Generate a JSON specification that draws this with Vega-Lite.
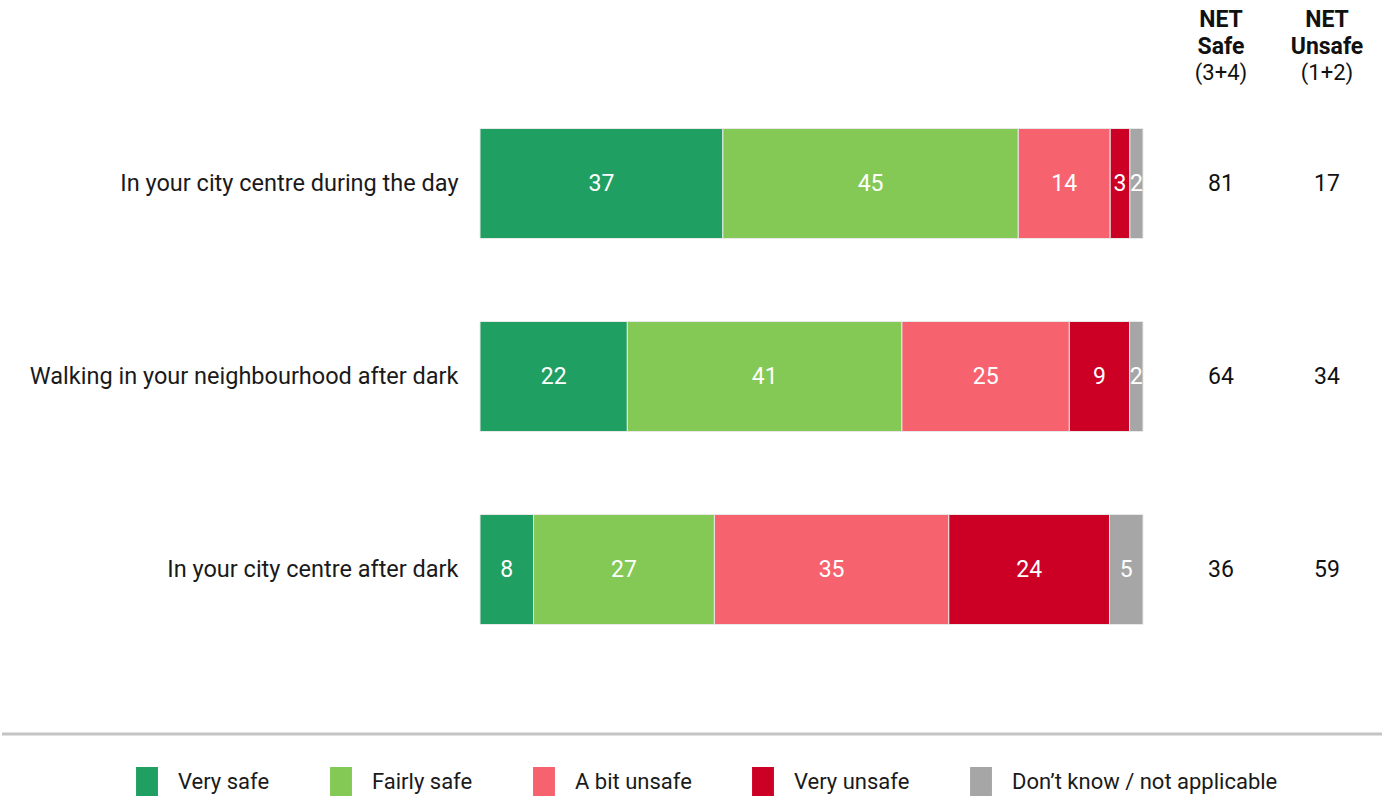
{
  "$schema": "https://vega.github.io/schema/vega-lite/v6.json",
  "padding": {"top": 9, "left": 0, "right": 0, "bottom": 0},
  "background": "white",
  "config": {
    "font": "Roboto",
    "view": {"stroke": null},
    "title": {"fontSize": 23, "fontWeight": "bold", "subtitleFontSize": 22, "subtitleFontWeight": "normal", "anchor": "middle", "lineHeight": 27, "subtitleLineHeight": 27, "subtitlePadding": 4, "color": "#111111", "subtitleColor": "#111111", "offset": 3}
  },
  "datasets": {
    "responses": [
      {"statement": "In your city centre during the day", "category": "Very safe", "value": 37},
      {"statement": "In your city centre during the day", "category": "Fairly safe", "value": 45},
      {"statement": "In your city centre during the day", "category": "A bit unsafe", "value": 14},
      {"statement": "In your city centre during the day", "category": "Very unsafe", "value": 3},
      {"statement": "In your city centre during the day", "category": "Don’t know / not applicable", "value": 2},
      {"statement": "Walking in your neighbourhood after dark", "category": "Very safe", "value": 22},
      {"statement": "Walking in your neighbourhood after dark", "category": "Fairly safe", "value": 41},
      {"statement": "Walking in your neighbourhood after dark", "category": "A bit unsafe", "value": 25},
      {"statement": "Walking in your neighbourhood after dark", "category": "Very unsafe", "value": 9},
      {"statement": "Walking in your neighbourhood after dark", "category": "Don’t know / not applicable", "value": 2},
      {"statement": "In your city centre after dark", "category": "Very safe", "value": 8},
      {"statement": "In your city centre after dark", "category": "Fairly safe", "value": 27},
      {"statement": "In your city centre after dark", "category": "A bit unsafe", "value": 35},
      {"statement": "In your city centre after dark", "category": "Very unsafe", "value": 24},
      {"statement": "In your city centre after dark", "category": "Don’t know / not applicable", "value": 5}
    ],
    "net": [
      {"statement": "In your city centre during the day", "measure": "NET Safe", "value": 81},
      {"statement": "In your city centre during the day", "measure": "NET Unsafe", "value": 17},
      {"statement": "Walking in your neighbourhood after dark", "measure": "NET Safe", "value": 64},
      {"statement": "Walking in your neighbourhood after dark", "measure": "NET Unsafe", "value": 34},
      {"statement": "In your city centre after dark", "measure": "NET Safe", "value": 36},
      {"statement": "In your city centre after dark", "measure": "NET Unsafe", "value": 59}
    ]
  },
  "bounds": "full",
  "spacing": 66,
  "vconcat": [
    {
      "bounds": "flush",
      "spacing": 25,
      "hconcat": [
        {"width": 453, "height": 579, "data": {"values": []}, "mark": "point"},
        {
          "width": 663,
          "height": 579,
          "data": {"name": "responses"},
          "transform": [
            {"calculate": "indexof(['Very safe','Fairly safe','A bit unsafe','Very unsafe','Don’t know / not applicable'], datum.category)", "as": "order"},
            {"stack": "value", "groupby": ["statement"], "sort": [{"field": "order", "order": "ascending"}], "offset": "normalize", "as": ["x0", "x1"]},
            {"calculate": "(datum.x0 + datum.x1) / 2", "as": "xm"}
          ],
          "encoding": {
            "y": {
              "field": "statement", "type": "nominal",
              "sort": ["In your city centre during the day", "Walking in your neighbourhood after dark", "In your city centre after dark"],
              "scale": {"paddingInner": 0.43, "paddingOuter": 0.215},
              "axis": {"title": null, "domain": false, "ticks": false, "labelPadding": 22, "labelFontSize": 23.5, "labelColor": "#1a1a1a", "labelLimit": 600}
            }
          },
          "layer": [
            {
              "mark": {"type": "bar", "stroke": "#e8e8e8", "strokeWidth": 1},
              "encoding": {
                "x": {"field": "x0", "type": "quantitative", "scale": {"domain": [0, 1]}, "axis": null},
                "x2": {"field": "x1"},
                "color": {
                  "field": "category", "type": "nominal",
                  "scale": {"domain": ["Very safe", "Fairly safe", "A bit unsafe", "Very unsafe", "Don’t know / not applicable"], "range": ["#1FA062", "#84C855", "#F7626F", "#CC0025", "#A6A6A6"]},
                  "legend": {
                    "orient": "none", "legendX": 130, "legendY": 680, "direction": "horizontal", "title": null,
                    "symbolType": "M-0.73,-1H0.73V1H-0.73Z", "symbolSize": 900, "symbolStrokeWidth": 0, "symbolOpacity": 1,
                    "labelFontSize": 22, "labelColor": "#1a1a1a", "labelOffset": 16, "columnPadding": 56, "labelLimit": 400
                  }
                }
              }
            },
            {
              "mark": {"type": "text", "color": "white", "fontSize": 23},
              "encoding": {
                "x": {"field": "xm", "type": "quantitative"},
                "text": {"field": "value"}
              }
            }
          ]
        },
        {
          "bounds": "flush",
          "spacing": 0,
          "hconcat": [
            {
              "width": 106, "height": 579,
              "data": {"name": "net"},
              "transform": [{"filter": "datum.measure === 'NET Safe'"}],
              "title": {"text": ["NET", "Safe"], "subtitle": "(3+4)"},
              "mark": {"type": "text", "fontSize": 23, "color": "#111111"},
              "encoding": {
                "y": {"field": "statement", "type": "nominal", "sort": ["In your city centre during the day", "Walking in your neighbourhood after dark", "In your city centre after dark"], "scale": {"paddingInner": 0.43, "paddingOuter": 0.215}, "axis": null},
                "text": {"field": "value"}
              }
            },
            {
              "width": 106, "height": 579,
              "data": {"name": "net"},
              "transform": [{"filter": "datum.measure === 'NET Unsafe'"}],
              "title": {"text": ["NET", "Unsafe"], "subtitle": "(1+2)"},
              "mark": {"type": "text", "fontSize": 23, "color": "#111111"},
              "encoding": {
                "y": {"field": "statement", "type": "nominal", "sort": ["In your city centre during the day", "Walking in your neighbourhood after dark", "In your city centre after dark"], "scale": {"paddingInner": 0.43, "paddingOuter": 0.215}, "axis": null},
                "text": {"field": "value"}
              }
            }
          ]
        }
      ]
    },
    {
      "width": 1380, "height": 1,
      "data": {"values": [{}]},
      "mark": {"type": "rule", "color": "#C4C4C4", "strokeWidth": 3},
      "encoding": {"y": {"datum": 0, "type": "quantitative", "scale": {"domain": [0, 1]}, "axis": null}}
    }
  ]
}
